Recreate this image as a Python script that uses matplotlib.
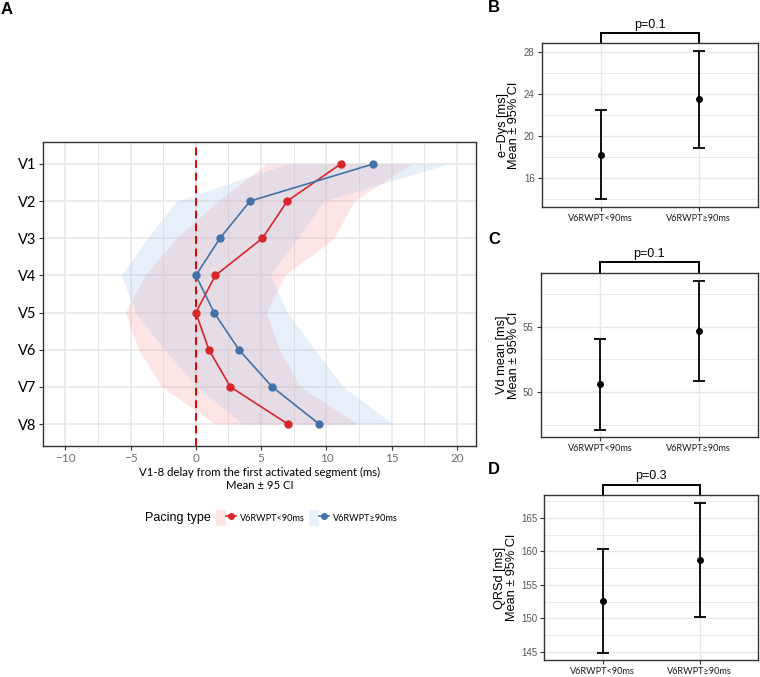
import matplotlib
matplotlib.use("Agg")
import matplotlib.pyplot as plt
from matplotlib.patches import Patch
from matplotlib.lines import Line2D
from matplotlib.legend_handler import HandlerTuple
import matplotlib.transforms as mtransforms
import numpy as np

# ---------------- data ----------------
leads = ["V1", "V2", "V3", "V4", "V5", "V6", "V7", "V8"]
groups = ["V6RWPT<90ms", "V6RWPT≥90ms"]

red_mean = [11.1, 7.0, 5.1, 1.5, 0.0, 1.0, 2.65, 7.05]
red_lo = [5.4, 1.7, -1.5, -3.9, -5.4, -4.4, -2.6, 1.5]
red_hi = [16.5, 12.1, 10.6, 6.8, 5.4, 6.4, 8.0, 12.4]
blue_mean = [13.6, 4.15, 1.85, 0.0, 1.4, 3.3, 5.85, 9.45]
blue_lo = [7.0, -1.5, -3.7, -5.7, -4.6, -2.4, 0.1, 3.6]
blue_hi = [19.3, 9.8, 7.8, 5.7, 7.0, 9.1, 11.3, 15.1]

edys_mean = [18.2, 23.5]
edys_lo = [14.0, 18.85]
edys_hi = [22.45, 28.1]

vd_mean = [50.6, 54.7]
vd_lo = [47.1, 50.85]
vd_hi = [54.05, 58.5]

qrs_mean = [152.6, 158.75]
qrs_lo = [144.9, 150.2]
qrs_hi = [160.35, 167.2]

p_values = ["p=0.1", "p=0.1", "p=0.3"]

RED = "#D7262B"
BLUE = "#4472A8"
PINK = "#F9A3A8"
LBLUE = "#A9C6E6"
GRID = "#E6E6E6"
BORDER = "#333333"

W, H = 760, 677
fig = plt.figure(figsize=(W / 100, H / 100), dpi=100)


def ax_px(l, t, r, b):
    return fig.add_axes([l / W, 1 - b / H, (r - l) / W, (b - t) / H])


def style_axes(ax):
    for s in ax.spines.values():
        s.set_color(BORDER)
        s.set_linewidth(1.0)
    ax.set_axisbelow(True)
    ax.tick_params(which="major", direction="out", length=3, color=BORDER, width=0.8, pad=2)
    ax.tick_params(which="minor", length=0)


# ---------------- Panel A ----------------
axA = ax_px(43, 142, 476, 446)
style_axes(axA)
ypos = np.arange(1, len(leads) + 1)
axA.fill_betweenx(ypos, red_lo, red_hi, color=PINK, alpha=0.28, linewidth=0)
axA.fill_betweenx(ypos, blue_lo, blue_hi, color=LBLUE, alpha=0.28, linewidth=0)
axA.axvline(0, color="#E00000", linestyle=(0, (4, 2.5)), linewidth=1.4, zorder=2)
axA.plot(red_mean, ypos, color=RED, marker="o", markersize=5, linewidth=1.2, zorder=3)
axA.plot(blue_mean, ypos, color=BLUE, marker="o", markersize=5, linewidth=1.2, zorder=3)
axA.set_xlim(-11.7, 21.45)
axA.set_ylim(8.59, 0.41)
axA.set_xticks([-10, -5, 0, 5, 10, 15, 20])
axA.set_xticks(np.arange(-10, 21, 2.5), minor=True)
axA.set_yticks(ypos)
axA.set_yticklabels(leads, fontsize=10.5, family="Lato", color="black")
axA.set_xticklabels(["−10", "−5", "0", "5", "10", "15", "20"], fontsize=8.5,
                    family="Lato", color="#6E6E6E")
axA.grid(True, which="major", color=GRID, linewidth=1.1)
axA.grid(True, which="minor", axis="x", color=GRID, linewidth=0.7)
axA.set_xlabel("V1-8 delay from the first activated segment (ms)\nMean ± 95 CI",
               fontsize=8.2, family="Lato", labelpad=2, linespacing=1.3)

# legend
fig.text(145 / W, 1 - 518 / H, "Pacing type", fontsize=9, family="Liberation Sans",
         va="center", ha="left")
h_red = (Patch(facecolor=PINK, alpha=0.28, edgecolor="none"),
         Line2D([], [], color=RED, marker="o", markersize=4, linewidth=1.2))
h_blue = (Patch(facecolor=LBLUE, alpha=0.28, edgecolor="none"),
          Line2D([], [], color=BLUE, marker="o", markersize=4, linewidth=1.2))
fig.legend([h_red, h_blue], groups, handler_map={tuple: HandlerTuple(ndivide=None)},
           loc="center left", bbox_to_anchor=(216 / W, 1 - 518 / H), ncol=2,
           frameon=False, prop={"family": "Lato", "size": 6.6}, handlelength=2.2,
           handleheight=2.2, handletextpad=0.4, columnspacing=0.5, borderaxespad=0,
           borderpad=0)

fig.text(7 / W, 1 - 9 / H, "A", fontsize=12, fontweight="bold", family="Liberation Sans",
         ha="center", va="center")


# ---------------- Panels B-D ----------------
def err_panel(rect, means, los, his, ylim, major, minor, ylabel, ptxt, letter, letter_y):
    ax = ax_px(*rect)
    style_axes(ax)
    x = np.arange(1, len(groups) + 1)
    m = np.array(means)
    yerr = [m - np.array(los), np.array(his) - m]
    ax.errorbar(x, m, yerr=yerr, fmt="o", color="black", ecolor="black",
                markersize=4, elinewidth=1.3, capsize=4.5, capthick=1.3, zorder=3)
    ax.set_xlim(0.4, 2.6)
    ax.set_ylim(*ylim)
    ax.set_xticks(x)
    ax.set_xticklabels(groups, fontsize=6.6, family="Lato", color="#1A1A1A")
    ax.set_yticks(major)
    ax.set_yticks(minor, minor=True)
    ax.set_yticklabels([str(v) for v in major], fontsize=7, family="Liberation Sans",
                       color="#555555")
    ax.grid(True, which="major", color=GRID, linewidth=1.0)
    ax.grid(True, which="minor", axis="y", color=GRID, linewidth=0.6)
    ax.set_ylabel(ylabel, fontsize=9.2, family="Liberation Sans", labelpad=2.5,
                  linespacing=0.95)
    tr = mtransforms.blended_transform_factory(ax.transData, ax.transAxes)
    hgt = rect[3] - rect[1]
    yb = 1 + 10.5 / hgt
    ax.plot([1, 1, 2, 2], [1.0, yb, yb, 1.0], transform=tr, color="black",
            linewidth=1.4, clip_on=False, solid_joinstyle="miter")
    ax.text(1.5, yb + 2 / hgt, ptxt, transform=tr, ha="center", va="bottom",
            fontsize=9, family="Liberation Sans")
    fig.text(494 / W, 1 - letter_y / H, letter, fontsize=12, fontweight="bold",
             family="Liberation Sans", ha="center", va="center")
    return ax


err_panel((541.7, 43.3, 757.7, 206.7), edys_mean, edys_lo, edys_hi, (13.26, 28.86),
          [16, 20, 24, 28], [14, 18, 22, 26], "e−Dys [ms]\nMean ± 95% CI",
          p_values[0], "B", 8)
err_panel((540.7, 272.7, 757.7, 437.3), vd_mean, vd_lo, vd_hi, (46.53, 59.13),
          [50, 55], [47.5, 52.5, 57.5], "Vd mean [ms]\nMean ± 95% CI",
          p_values[1], "C", 240)
err_panel((544.3, 495, 757.7, 660), qrs_mean, qrs_lo, qrs_hi, (143.8, 168.4),
          [145, 150, 155, 160, 165], [147.5, 152.5, 157.5, 162.5, 167.5],
          "QRSd [ms]\nMean ± 95% CI", p_values[2], "D", 469)

fig.savefig("out.png", dpi=100)
